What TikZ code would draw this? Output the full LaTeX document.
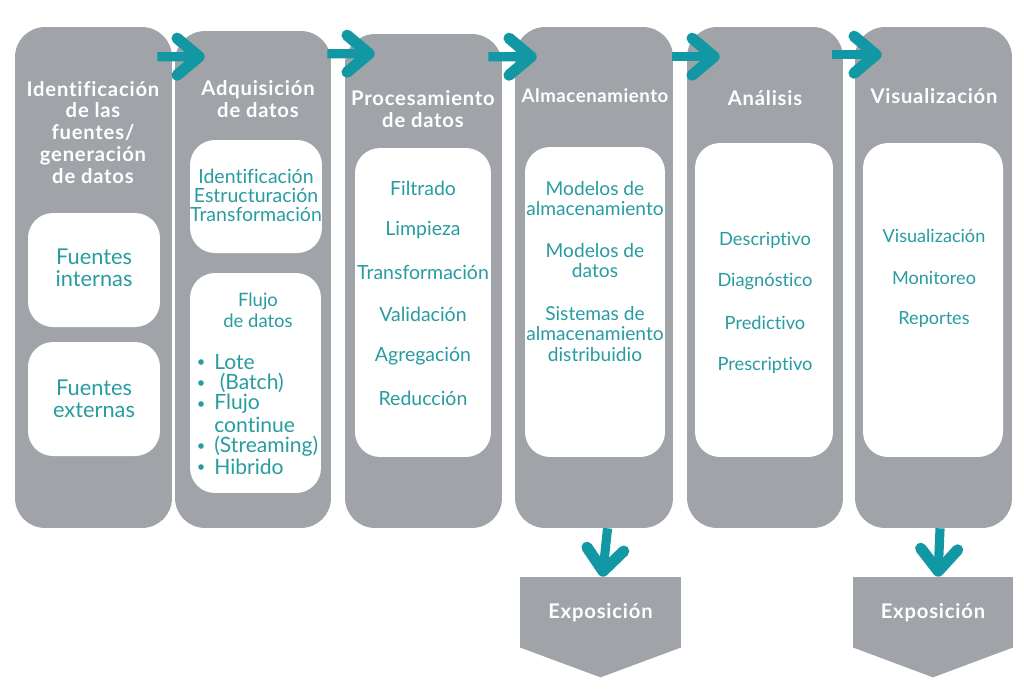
\documentclass[tikz,border=0pt]{standalone}
\usepackage{fontspec}
\setmainfont{Lato}[Ligatures=CommonOff]
\usepackage{xcolor}
\usetikzlibrary{arrows.meta}
\definecolor{gris}{RGB}{160,163,168}
\definecolor{turquesa}{RGB}{18,152,164}
\definecolor{textoazul}{RGB}{40,156,160}

\begin{document}
\begin{tikzpicture}[x=0.02cm,y=-0.02cm,
	columna/.style={fill=gris, rounded corners=0.6cm, inner sep=0pt, minimum width=3.14cm, minimum height=10.02cm},
	caja/.style={fill=white, rounded corners=0.5cm, inner sep=0pt},
	titulo/.style={text=white, font=\fontsize{11.5}{12.5}\selectfont\bfseries\addfontfeatures{LetterSpace=4}, align=center},
	texto/.style={text=textoazul, font=\fontsize{10.5}{12}\selectfont, align=center},
	flecha/.style={draw=turquesa, line width=5.2pt, -{Straight Barb[length=12.5pt,width=21pt,line width=6.4pt,round]}}]
		\useasboundingbox (0,0) rectangle (1024,698);
		% columnas
		\node[columna] (c1) at (93.5,277.5) {};
		\node[columna, minimum width=3.12cm, minimum height=9.94cm] (c2) at (253,279.5) {};
		\node[columna, minimum height=9.88cm] (c3) at (423.5,281) {};
		\node[columna, minimum width=3.16cm] (c4) at (594,277.5) {};
		\node[columna, minimum width=3.12cm] (c5) at (765,277.5) {};
		\node[columna] (c6) at (933.5,277.5) {};
		% cajas blancas
		\node[caja, minimum width=2.64cm, minimum height=2.28cm] (b1a) at (94,270) {};
		\node[caja, minimum width=2.64cm, minimum height=2.28cm] (b1b) at (94,399) {};
		\node[caja, minimum width=2.64cm, minimum height=2.26cm] (b2a) at (256,196.5) {};
		\node[caja, minimum width=2.62cm, minimum height=4.4cm] (b2b) at (255.5,383) {};
		\node[caja, minimum width=2.72cm, minimum height=6.18cm] (b3) at (423,302.5) {};
		\node[caja, minimum width=2.8cm, minimum height=6.2cm] (b4) at (595,302) {};
		\node[caja, minimum width=2.76cm, minimum height=6.28cm] (b5) at (764,300) {};
		\node[caja, minimum width=2.8cm, minimum height=6.28cm] (b6) at (933,300) {};
		% titulos
		\node[titulo] (t1) at (93,132.5) {Identificación\\de las\\fuentes/\\generación\\de datos};
		\node[titulo] (t2) at (258,99) {Adquisición\\de datos};
		\node[titulo] (t3) at (423,109) {Procesamiento\\de datos};
		\node[titulo, font=\fontsize{10.6}{12}\selectfont\bfseries\addfontfeatures{LetterSpace=3}] (t4) at (595,96) {Almacenamiento};
		\node[titulo] (t5) at (765,98) {Análisis};
		\node[titulo] (t6) at (934,96) {Visualización};
		% textos de las cajas
		\node[texto, font=\fontsize{12.4}{12.5}\selectfont] (f1) at (94,268) {Fuentes\\internas};
		\node[texto, font=\fontsize{12.4}{12.5}\selectfont] (f2) at (94,399) {Fuentes\\externas};
		\node[texto, font=\fontsize{11.1}{10.8}\selectfont] (a1) at (256,195) {Identificación\\Estructuración\\Transformación};
		\node[texto, font=\fontsize{10.5}{11.9}\selectfont] (a2) at (258,310) {Flujo\\de datos};
		\foreach \y/\t/\p in {362/Lote/1, 383/{\ (Batch)}/1, 404/Flujo/1, 425/continue/0, 446/(Streaming)/1, 467/Hibrido/1}{
			\node[texto, font=\fontsize{12}{12}\selectfont, anchor=west, inner sep=0pt] at (214,\y) {\t};
			\ifnum\p=1 \fill[textoazul] (201,\y) circle (2.8);\fi
		}
		\foreach \y/\t [count=\i] in {188/Filtrado, 230/Limpieza, 272/Transformación, 314/Validación, 356/Agregación, 398/Reducción}
			\node[texto, font=\fontsize{11.1}{12}\selectfont] (p\i) at (423,\y) {\t};
		\node[texto, font=\fontsize{10.9}{11.9}\selectfont] (m1) at (595,198.5) {Modelos de\\almacenamiento};
		\node[texto, font=\fontsize{10.9}{11.9}\selectfont] (m2) at (595,260.5) {Modelos de\\datos};
		\node[texto, font=\fontsize{10.9}{11.9}\selectfont] (m3) at (595,334) {Sistemas de\\almacenamiento\\distribuidio};
		\foreach \y/\t [count=\i] in {240/Descriptivo, 281/Diagnóstico, 323/Predictivo, 365/Prescriptivo}
			\node[texto, font=\fontsize{10.4}{12}\selectfont] (d\i) at (765,\y) {\t};
		\foreach \y/\t [count=\i] in {236/Visualización, 278/Monitoreo, 320/Reportes}
			\node[texto, font=\fontsize{10.3}{12}\selectfont] (v\i) at (934,\y) {\t};
		% exposicion
		\node[fill=gris, inner sep=0pt, minimum width=3.22cm, minimum height=1.42cm, titulo] (e1) at (600.5,612.5) {Exposición};
		\node[fill=gris, inner sep=0pt, minimum width=3.2cm, minimum height=1.42cm, titulo] (e2) at (933,612.5) {Exposición};
		\fill[gris] ([shift={(0,-1)}]e1.south west) -- ([shift={(0,29)}]e1.south) -- ([shift={(0,-1)}]e1.south east) -- cycle;
		\fill[gris] ([shift={(0,-1)}]e2.south west) -- ([shift={(0,29)}]e2.south) -- ([shift={(0,-1)}]e2.south east) -- cycle;
		% flechas
		\draw[flecha] ([shift={(-15,30)}]c1.north east) -- ([shift={(30,26)}]c2.north west);
		\draw[flecha] ([shift={(-4,23)}]c2.north east) -- ([shift={(30,20)}]c3.north west);
		\draw[flecha] ([shift={(-14,23)}]c3.north east) -- ([shift={(22,30)}]c4.north west);
		\draw[flecha] ([shift={(-1,30)}]c4.north east) -- ([shift={(33,30)}]c5.north west);
		\draw[flecha] ([shift={(-11,28)}]c5.north east) -- ([shift={(27,28)}]c6.north west);
		\draw[flecha] ([xshift=4pt]c4.south -| e1.north) -- ([shift={(2,0)}]e1.north);
		\draw[flecha] ([xshift=4pt]c6.south -| e2.north) -- ([shift={(5,0)}]e2.north);
	\end{tikzpicture}
\end{document}
